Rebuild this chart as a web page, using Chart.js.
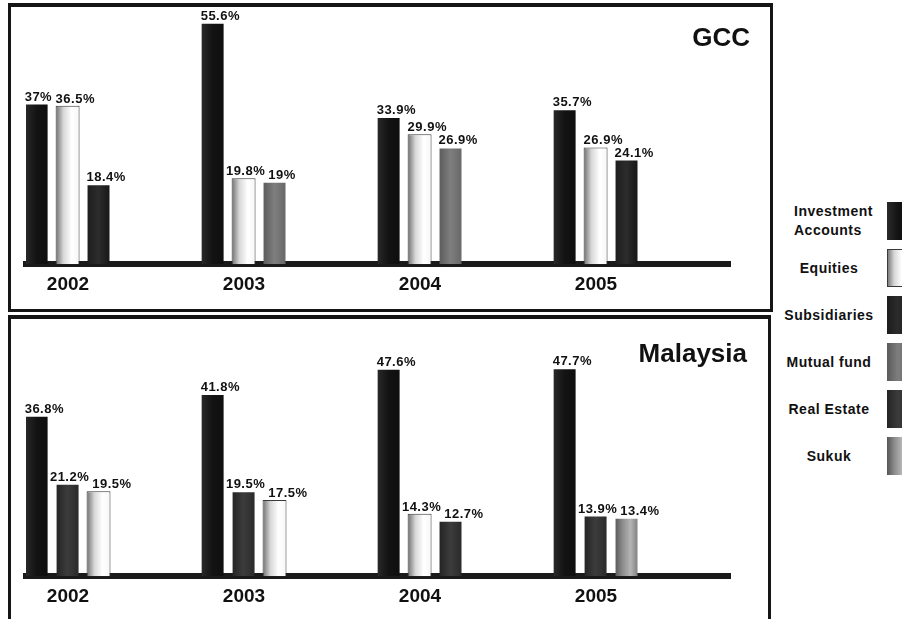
<!DOCTYPE html>
<html>
<head>
<meta charset="utf-8">
<script src="https://cdn.jsdelivr.net/npm/chart.js@4.4.1/dist/chart.umd.min.js"></script>
<style>
  body { margin: 0; width: 902px; height: 619px; overflow: hidden; background: #fff; position: relative;
         font-family: "Liberation Sans", Arial, sans-serif; color: #111; }
  .panel { position: absolute; box-sizing: border-box; border: 3px solid #151515; border-top-width: 4px; }
  #panel-gcc { left: 8px; top: 3px; width: 765px; height: 309px; }
  #panel-my { left: 8px; top: 315px; width: 763px; height: 330px; }
  canvas { position: absolute; left: 11px; }
  #chart-gcc { top: 7px; }
  #chart-my { top: 319px; }
  .region { position: absolute; font-weight: bold; font-size: 26px; line-height: 26px; }
  #title-gcc { right: 152px; top: 24px; }
  #title-my { right: 155px; top: 340px; }
  #legend { position: absolute; left: 771px; top: 202px; }
  .item { display: flex; align-items: center; height: 38px; margin-bottom: 9px; }
  .item .name { width: 116px; text-align: center; font-weight: bold; font-size: 14px; line-height: 19px; letter-spacing: 0.5px; }
  .item .name.left { text-align: left; box-sizing: border-box; padding-left: 23px; }
  .item .swatch { width: 22px; height: 38px; }
</style>
</head>
<body>
<div class="panel" id="panel-gcc"></div>
<div class="panel" id="panel-my"></div>
<canvas id="chart-gcc" width="756" height="300"></canvas>
<canvas id="chart-my" width="756" height="298"></canvas>
<div class="region" id="title-gcc">GCC</div>
<div class="region" id="title-my">Malaysia</div>
<div id="legend"></div>
<script>
const years = ['2002', '2003', '2004', '2005'];
const seriesNames = ['Investment Accounts', 'Equities', 'Subsidiaries', 'Mutual fund', 'Real Estate', 'Sukuk'];

// GCC, % share per year (null = not among the three shown that year)
const gccInvestment = [37, 55.6, 33.9, 35.7];
const gccEquities = [36.5, 19.8, 29.9, 26.9];
const gccSubsidiaries = [18.4, null, null, 24.1];
const gccMutualFund = [null, 19, 26.9, null];
const gccRealEstate = [null, null, null, null];
const gccSukuk = [null, null, null, null];

// Malaysia
const myInvestment = [36.8, 41.8, 47.6, 47.7];
const myEquities = [19.5, 17.5, 14.3, null];
const mySubsidiaries = [null, null, null, null];
const myMutualFund = [null, null, null, null];
const myRealEstate = [21.2, 19.5, 12.7, 13.9];
const mySukuk = [null, null, null, 13.4];

// left-to-right gradient stops per series
const shades = {
  'Investment Accounts': ['#2a2a2a', '#131313', '#0e0e0e'],
  'Equities': ['#6e6e6e', '#d8d8d8', '#ffffff', '#f6f6f6'],
  'Subsidiaries': ['#1c1c1c', '#2c2c2c', '#151515'],
  'Mutual fund': ['#5a5a5a', '#7e7e7e', '#666666'],
  'Real Estate': ['#232323', '#3c3c3c', '#282828'],
  'Sukuk': ['#555555', '#8c8c8c', '#b4b4b4', '#7a7a7a']
};
const edges = { 'Equities': '#3a3a3a' };

function barFill(names) {
  return ctx => {
    const name = names[ctx.dataIndex];
    if (!name) return 'transparent';
    const stops = shades[name];
    const el = ctx.chart.getDatasetMeta(ctx.datasetIndex).data[ctx.dataIndex];
    if (!el || !el.width) return stops[1];
    const g = ctx.chart.ctx.createLinearGradient(el.x - el.width / 2, 0, el.x + el.width / 2, 0);
    stops.forEach((c, i) => g.addColorStop(i / (stops.length - 1), c));
    return g;
  };
}

// bars inside a year are drawn largest first, so regroup the series by rank
function rankDatasets(seriesValues) {
  const ranks = [0, 1, 2].map(() => ({ values: [], names: [] }));
  years.forEach((y, i) => {
    const present = seriesNames
      .map((name, s) => ({ name, v: seriesValues[s][i] }))
      .filter(d => d.v != null)
      .sort((a, b) => b.v - a.v);
    ranks.forEach((r, k) => {
      r.values.push(present[k] ? present[k].v : null);
      r.names.push(present[k] ? present[k].name : null);
    });
  });
  const sets = ranks.map(r => ({
    data: r.values,
    backgroundColor: barFill(r.names),
    borderColor: ctx => edges[r.names[ctx.dataIndex]] || 'transparent',
    borderWidth: 1
  }));
  // empty slots keep each year's bars on the left side of its column
  for (let k = 0; k < 3; k++) sets.push({ data: [] });
  return sets;
}

const valueLabels = {
  id: 'valueLabels',
  afterDatasetsDraw(chart) {
    const c = chart.ctx;
    c.save();
    c.font = 'bold 13px "Liberation Sans", Arial, sans-serif';
    c.letterSpacing = '0.5px';
    c.fillStyle = '#111';
    c.textAlign = 'left';
    c.textBaseline = 'alphabetic';
    years.forEach((y, j) => {
      const labels = [];
      chart.data.datasets.forEach((ds, i) => {
        const v = ds.data[j];
        if (v == null) return;
        const bar = chart.getDatasetMeta(i).data[j];
        const text = v + '%';
        labels.push({ text, x: bar.x - bar.width / 2, y: bar.y - 3, w: c.measureText(text).width });
      });
      // nudge neighbouring labels apart when they sit at about the same height
      for (let k = 0; k + 1 < labels.length; k++) {
        const a = labels[k], b = labels[k + 1];
        const overlap = a.x + a.w + 3 - b.x;
        if (Math.abs(a.y - b.y) < 11 && overlap > 0) {
          a.x -= overlap / 2;
          b.x += overlap / 2;
        }
      }
      labels.forEach(l => c.fillText(l.text, l.x, l.y));
    });
    c.restore();
  }
};

function makeChart(id, seriesValues, padTop, padBottom) {
  const chart = new Chart(document.getElementById(id), {
    type: 'bar',
    data: { labels: years, datasets: rankDatasets(seriesValues) },
    options: {
      responsive: false,
      animation: false,
      events: [],
      layout: { padding: { left: 15, right: 37, top: padTop, bottom: padBottom } },
      datasets: { bar: { categoryPercentage: 1.055, barPercentage: 0.774 } },
      plugins: { legend: { display: false }, tooltip: { enabled: false } },
      scales: {
        x: {
          grid: { display: false, drawTicks: false },
          border: { color: '#1a1a1a', width: 6 },
          ticks: {
            color: '#111',
            maxRotation: 0,
            padding: 9,
            labelOffset: -46,
            font: { size: 19, weight: 'bold', family: '"Liberation Sans", Arial, sans-serif' }
          }
        },
        y: { display: false, min: 0, max: 59 }
      }
    },
    plugins: [valueLabels]
  });
  // second pass so the gradients can use the laid-out bar positions
  chart.update('none');
  return chart;
}

makeChart('chart-gcc', [gccInvestment, gccEquities, gccSubsidiaries, gccMutualFund, gccRealEstate, gccSukuk], 1, 2);
makeChart('chart-my', [myInvestment, myEquities, mySubsidiaries, myMutualFund, myRealEstate, mySukuk], 0, 0);

const legend = document.getElementById('legend');
seriesNames.forEach(name => {
  const row = document.createElement('div');
  row.className = 'item';
  const label = document.createElement('div');
  label.className = 'name';
  if (name === 'Investment Accounts') {
    label.classList.add('left');
    label.innerHTML = 'Investment<br>Accounts';
  } else {
    label.textContent = name;
  }
  const sw = document.createElement('div');
  sw.className = 'swatch';
  sw.style.background = 'linear-gradient(to right, ' + shades[name].join(', ') + ')';
  if (edges[name]) sw.style.boxShadow = 'inset 0 0 0 1px ' + edges[name];
  row.appendChild(label);
  row.appendChild(sw);
  legend.appendChild(row);
});
</script>
</body>
</html>
